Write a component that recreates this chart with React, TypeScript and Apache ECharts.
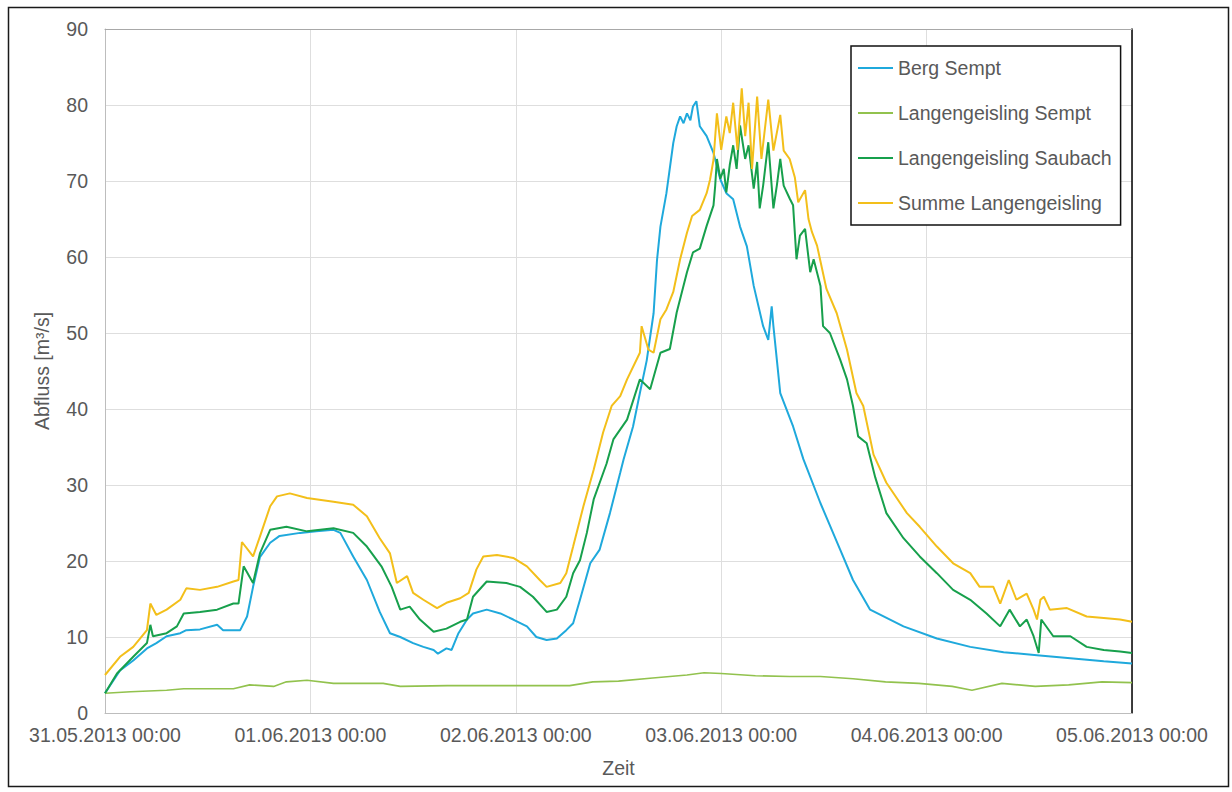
import React, { useEffect, useRef } from "react";
import * as echarts from "echarts";

// x values are hours since 31.05.2013 00:00
const dayLabels = [
  "31.05.2013 00:00",
  "01.06.2013 00:00",
  "02.06.2013 00:00",
  "03.06.2013 00:00",
  "04.06.2013 00:00",
  "05.06.2013 00:00",
];

const seriesNames = [
  "Berg Sempt",
  "Langengeisling Sempt",
  "Langengeisling Saubach",
  "Summe Langengeisling",
];

const bergHours = [
  0, 1.75, 3.3, 4.9, 6.0, 7.2, 8.8, 9.5, 11.1, 13.1, 13.8, 15.8, 16.6, 17.3, 18.1, 19.3, 20.4, 22.8, 24.7, 26.7,
  27.5, 29.0, 30.6, 32.1, 33.3, 34.5, 36.0, 37.2, 38.4, 38.9, 39.9, 40.5, 41.3, 42.3, 43.0, 44.6, 46.2, 47.7, 49.3,
  50.4, 51.6, 52.8, 53.9, 54.7, 55.5, 56.7, 57.8, 59.0, 60.2, 60.6, 61.7, 62.5, 63.3, 64.1, 64.5, 64.9, 65.6, 66.4,
  66.8, 67.2, 67.6, 68.0, 68.4, 68.7, 69.1, 69.5, 70.3, 71.1, 71.9, 72.6, 73.4, 74.2, 75.0, 75.8, 76.9, 77.5, 77.9,
  78.1, 78.9, 80.4, 81.6, 83.6, 85.9, 87.4, 89.4, 93.3, 97.2, 101.1, 105.0, 108.9, 112.8, 116.7, 120,
];
const bergValues = [
  2.6, 5.6, 6.9, 8.5, 9.2, 10.1, 10.5, 10.9, 11.0, 11.6, 10.9, 10.9, 12.7, 16.6, 20.5, 22.4, 23.3, 23.7, 23.9, 24.1,
  23.7, 20.6, 17.5, 13.3, 10.5, 10.0, 9.2, 8.7, 8.3, 7.8, 8.5, 8.3, 10.5, 12.3, 13.1, 13.6, 13.1, 12.3, 11.4,
  10.0, 9.6, 9.8, 10.9, 11.8, 14.9, 19.7, 21.5, 26.3, 31.6, 33.4, 37.7, 42.1, 46.4, 52.6, 59.6, 64.0, 68.4, 75.0,
  77.2, 78.5, 77.6, 78.9, 78.0, 79.8, 80.5, 77.2, 75.9, 73.7, 70.2, 68.4, 67.6, 64.0, 61.4, 56.2, 50.9, 49.1, 53.5,
  50.9, 42.1, 37.7, 33.4, 27.6, 21.5, 17.5, 13.6, 11.4, 9.8, 8.7, 8.0, 7.6, 7.2, 6.8, 6.5,
];

const semptHours = [
  0, 3, 7.2, 9.2, 15, 16.9, 19.7, 21.2, 23.6, 26.7, 32.5, 34.5, 40, 48, 54.3, 57, 60, 64, 68, 70, 72, 76, 80, 83.6,
  87.4, 91.2, 95.1, 99, 101.3, 104.8, 108.7, 112.6, 116.5, 120,
];
const semptValues = [
  2.6, 2.8, 3.0, 3.2, 3.2, 3.7, 3.5, 4.1, 4.3, 3.9, 3.9, 3.5, 3.6, 3.6, 3.6, 4.1, 4.2, 4.6, 5.0, 5.3, 5.2, 4.9, 4.8,
  4.8, 4.5, 4.1, 3.9, 3.5, 3.0, 3.9, 3.5, 3.7, 4.1, 4.0,
];

const saubachHours = [
  0, 1.4, 3.3, 4.9, 5.3, 5.6, 7.2, 8.4, 9.2, 11.1, 13.1, 15.0, 15.6, 16.2, 17.3, 18.1, 19.3, 21.2, 23.6, 26.7, 29.0,
  30.6, 32.3, 33.5, 34.5, 35.6, 36.8, 38.4, 39.9, 41.5, 42.3, 43.0, 44.6, 46.9, 48.5, 50.0, 51.6, 52.8, 53.9, 54.7,
  55.5, 56.3, 57.1, 58.6, 59.4, 61.0, 62.5, 63.7, 64.9, 66.0, 66.8, 68.0, 68.7, 69.5, 70.3, 71.1, 71.3, 71.5, 71.9,
  72.3, 72.6, 73.0, 73.4, 73.8, 74.2, 74.8, 75.2, 75.8, 76.2, 76.5, 76.9, 77.5, 78.1, 78.5, 78.9, 79.3, 80.0, 80.4,
  80.8, 81.2, 81.8, 82.4, 82.8, 83.6, 83.9, 84.7, 85.9, 86.7, 87.4, 88.0, 89.0, 90.0, 91.3, 93.3, 95.2, 97.2, 99.1,
  101.1, 103.0, 104.6, 105.7, 106.9, 107.7, 108.5, 109.1, 109.4, 110.8, 112.8, 114.7, 116.7, 118.6, 120,
];
const saubachValues = [
  2.6, 5.2, 7.4, 9.2, 11.6, 10.1, 10.5, 11.4, 13.1, 13.3, 13.6, 14.4, 14.4, 19.3, 17.1, 21.0, 24.1, 24.5, 23.9, 24.3,
  23.7, 21.9, 19.3, 16.6, 13.6, 14.0, 12.3, 10.7, 11.1, 12.0, 12.3, 15.3, 17.3, 17.1, 16.6, 15.3, 13.3, 13.6, 15.3,
  18.4, 20.1, 23.7, 28.1, 32.8, 36.0, 38.6, 43.9, 42.6, 47.4, 47.9, 52.7, 58.0, 60.6, 61.1, 64.1, 66.8, 69.4, 72.9,
  70.3, 71.6, 68.5, 72.1, 74.7, 71.6, 77.3, 72.9, 74.7, 69.0, 72.5, 66.4, 69.4, 75.1, 66.4, 69.4, 72.9, 69.4, 67.7,
  66.8, 59.7, 62.8, 63.7, 58.0, 59.7, 56.2, 50.9, 50.0, 46.5, 43.9, 40.4, 36.4, 35.5, 31.0, 26.3, 23.0, 20.6, 18.4,
  16.2, 14.9, 13.1, 11.4, 13.6, 11.4, 12.3, 10.1, 7.9, 12.3, 10.1, 10.1, 8.7, 8.3, 8.1, 7.9,
];

const summeHours = [
  0, 1.75, 3.3, 4.9, 5.3, 6.0, 7.2, 8.8, 9.5, 11.1, 13.1, 15.0, 15.6, 16.0, 17.3, 18.1, 19.3, 20.1, 21.6, 23.6, 26.7,
  29.0, 30.6, 32.1, 33.3, 34.1, 35.3, 36.0, 37.2, 38.8, 39.9, 41.5, 42.5, 43.4, 44.2, 45.8, 47.7, 49.3, 50.8, 51.6,
  53.2, 53.9, 54.7, 55.9, 57.1, 58.2, 59.2, 60.2, 61.0, 62.5, 62.7, 63.5, 64.1, 64.9, 65.6, 66.4, 67.2, 68.0, 68.6,
  69.5, 70.3, 70.7, 71.1, 71.5, 72.0, 72.6, 73.0, 73.4, 73.9, 74.4, 74.8, 75.2, 75.6, 76.2, 76.7, 77.5, 78.1, 78.9,
  79.3, 80.0, 80.6, 81.0, 81.8, 82.2, 82.6, 83.2, 84.3, 85.5, 86.7, 87.8, 88.6, 89.8, 91.3, 93.7, 95.2, 97.2, 99.1,
  101.1, 102.2, 103.8, 104.6, 105.6, 106.5, 107.7, 108.5, 108.9, 109.3, 109.7, 110.4, 112.4, 114.7, 116.7, 118.6, 120,
];
const summeValues = [
  5.0, 7.4, 8.7, 10.9, 14.4, 12.9, 13.6, 14.9, 16.4, 16.2, 16.6, 17.3, 17.5, 22.5, 20.6, 23.2, 27.2, 28.5, 28.9, 28.3,
  27.8, 27.4, 25.9, 23.0, 21.0, 17.1, 18.0, 15.8, 14.9, 13.8, 14.5, 15.1, 15.8, 18.9, 20.6, 20.8, 20.4, 19.3, 17.5,
  16.6, 17.1, 18.4, 21.9, 27.2, 32.0, 36.9, 40.4, 41.7, 43.9, 47.4, 50.9, 47.8, 47.4, 51.8, 53.1, 55.4, 59.7, 63.2,
  65.4, 66.2, 68.4, 70.2, 72.8, 78.9, 74.1, 78.5, 76.3, 80.3, 74.1, 82.2, 75.9, 80.3, 71.6, 81.1, 72.9, 80.7, 74.0,
  78.7, 74.0, 72.9, 70.5, 67.2, 68.8, 65.0, 63.3, 61.5, 55.8, 52.6, 47.8, 42.1, 40.4, 34.0, 30.3, 26.3, 24.5, 21.9,
  19.7, 18.4, 16.6, 16.6, 14.4, 17.5, 14.9, 15.7, 13.6, 12.3, 14.9, 15.3, 13.6, 13.8, 12.7, 12.5, 12.3, 12.0,
];

const colors = ["#1fa9dc", "#92c24e", "#17a04c", "#f3bf1a"];
const widths = [2, 1.6, 2, 2];

const zip = (h: number[], v: number[]) => h.map((x, i) => [x, v[i]]);

const FONT = "'Liberation Sans', Arial, sans-serif";
const TXT = "#595959";

export default function App() {
  const ref = useRef<HTMLDivElement>(null);
  useEffect(() => {
    if (!ref.current) return;
    const chart = echarts.init(ref.current, undefined, { renderer: "svg" });
    const dataSets = [
      zip(bergHours, bergValues),
      zip(semptHours, semptValues),
      zip(saubachHours, saubachValues),
      zip(summeHours, summeValues),
    ];
    chart.setOption({
      animation: false,
      backgroundColor: "#ffffff",
      textStyle: { fontFamily: FONT },
      grid: { left: 105, right: 100, top: 29, bottom: 79, containLabel: false },
      graphic: [
        {
          type: "rect",
          shape: { x: 8.5, y: 7.5, width: 1220, height: 779 },
          style: { fill: "none", stroke: "#1a1a1a", lineWidth: 1.5 },
          silent: true,
        },
      ],
      legend: {
        orient: "vertical",
        left: 851,
        top: 46,
        padding: [12, 9, 12, 7],
        itemGap: 25,
        itemWidth: 35,
        itemHeight: 2,
        backgroundColor: "#ffffff",
        borderColor: "#111111",
        borderWidth: 1.5,
        textStyle: { fontSize: 19.5, color: TXT, fontFamily: FONT, lineHeight: 20 },
        data: seriesNames.map((n) => ({ name: n, icon: "rect" })),
      },
      xAxis: [
        {
          type: "value",
          min: 0,
          max: 120,
          interval: 24,
          axisLine: { show: true, onZero: false, lineStyle: { color: "#bdbdbd", width: 1 } },
          axisTick: { show: false },
          splitLine: { show: true, lineStyle: { color: "#dedede", width: 1 } },
          axisLabel: {
            formatter: (v: number) => dayLabels[Math.round(v / 24)] ?? "",
            fontSize: 19.5,
            color: TXT,
            margin: 12,
            showMinLabel: true,
            showMaxLabel: true,
            fontFamily: FONT,
          },
          name: "Zeit",
          nameLocation: "middle",
          nameGap: 45,
          nameTextStyle: { fontSize: 19.5, color: TXT, fontFamily: FONT },
        },
        {
          type: "value",
          position: "top",
          min: 0,
          max: 120,
          axisLine: { show: true, onZero: false, lineStyle: { color: "#a8a8a8", width: 1 } },
          axisTick: { show: false },
          axisLabel: { show: false },
          splitLine: { show: false },
        },
      ],
      yAxis: [
        {
          type: "value",
          min: 0,
          max: 90,
          interval: 10,
          axisLine: { show: true, onZero: false, lineStyle: { color: "#bdbdbd", width: 1 } },
          axisTick: { show: false },
          splitLine: { show: true, lineStyle: { color: "#dedede", width: 1 } },
          axisLabel: { fontSize: 19.5, color: TXT, margin: 17, fontFamily: FONT },
          name: "Abfluss [m³/s]",
          nameLocation: "middle",
          nameGap: 53,
          nameTextStyle: { fontSize: 19.5, color: TXT, fontFamily: FONT },
        },
        {
          type: "value",
          position: "right",
          min: 0,
          max: 90,
          axisLine: { show: true, onZero: false, lineStyle: { color: "#000000", width: 1.5 } },
          axisTick: { show: false },
          axisLabel: { show: false },
          splitLine: { show: false },
        },
      ],
      series: seriesNames.map((name, i) => ({
        name,
        type: "line",
        xAxisIndex: 0,
        yAxisIndex: 0,
        data: dataSets[i],
        showSymbol: false,
        symbol: "none",
        color: colors[i],
        lineStyle: { color: colors[i], width: widths[i] },
      })),
    });
    return () => chart.dispose();
  }, []);
  return (
    <div
      ref={ref}
      style={{ position: "fixed", left: 0, top: 0, width: 1232, height: 792 }}
    />
  );
}
